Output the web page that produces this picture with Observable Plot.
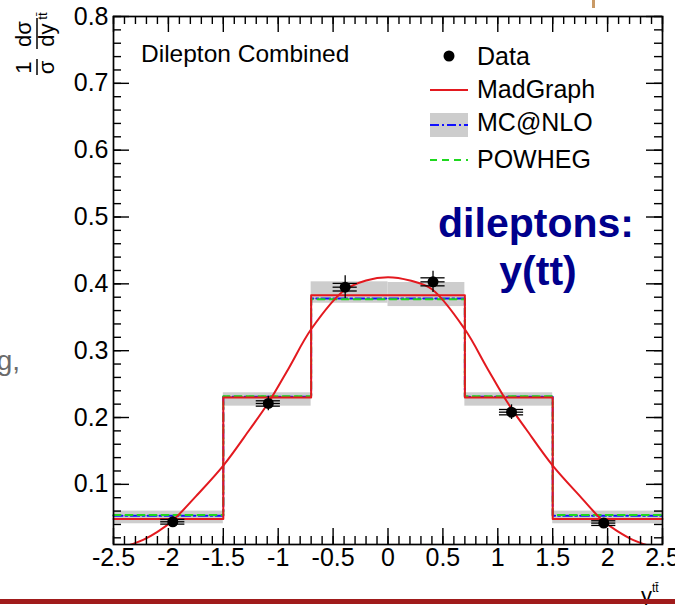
<!DOCTYPE html>
<html>
<head>
<meta charset="utf-8">
<script src="https://cdn.jsdelivr.net/npm/d3@7"></script>
<script src="https://cdn.jsdelivr.net/npm/@observablehq/plot@0.6"></script>
<style>
  body { margin: 0; background: #fff; }
  #chart { position: relative; width: 675px; height: 605px; overflow: hidden; background: #fff; }
</style>
</head>
<body>
<div id="chart"></div>
<script>
// Normalised differential cross section in y(ttbar), dilepton channel
const binEdges   = [-2.5, -1.5, -0.7, 0, 0.7, 1.5, 2.5];
const madgraph   = [0.048, 0.230, 0.383, 0.383, 0.230, 0.048];
const mcatnlo    = [0.053, 0.231, 0.378, 0.378, 0.231, 0.053];
const mcatnloLow = [0.041, 0.217, 0.371, 0.366, 0.217, 0.041];
const mcatnloHigh= [0.060, 0.237, 0.403, 0.402, 0.237, 0.060];
const powheg     = [0.054, 0.232, 0.377, 0.377, 0.232, 0.054];

const dataX    = [-1.96, -1.09, -0.39, 0.41, 1.125, 1.965];
const dataY    = [0.044, 0.221, 0.395, 0.403, 0.208, 0.042];
const dataErr  = [0.004, 0.011, 0.017, 0.016, 0.011, 0.004];
const dataXErr = [0.11, 0.11, 0.11, 0.11, 0.11, 0.11];
const dataStat = [0.0035, 0.004, 0.0057, 0.006, 0.004, 0.0035];

// MadGraph smooth prediction
const curveX = [-2.36, -2.23, -2.1, -1.96, -1.75, -1.5, -1.26, -1.09, -0.9, -0.7, -0.4, -0.2, 0,
                 0.2, 0.4, 0.7, 0.9, 1.09, 1.26, 1.5, 1.75, 1.96, 2.1, 2.23, 2.36];
const curveY = [0.009, 0.017, 0.029, 0.046, 0.082, 0.128, 0.182, 0.222, 0.275, 0.332, 0.390, 0.405, 0.410,
                0.405, 0.392, 0.332, 0.275, 0.222, 0.182, 0.128, 0.082, 0.045, 0.029, 0.017, 0.009];

const xTicks = [-2.5, -2, -1.5, -1, -0.5, 0, 0.5, 1, 1.5, 2, 2.5];
const yTicks = [0.1, 0.2, 0.3, 0.4, 0.5, 0.6, 0.7, 0.8];
const xMinor = d3.range(-25, 26).map(i => i / 10);
const yMinor = d3.range(1, 41).map(i => i / 50);

const W = 675, H = 605;
const mL = 113, mR = 13, mT = 16, mB = 61;
const innerW = W - mL - mR, innerH = H - mT - mB;
const majorLen = 16, minorLen = 8;

const RED = "#e3191f", BLUE = "#1010ff", GREEN = "#1ed81e", BAND = "#cdcdcd";
const FONT = "'Liberation Sans', Arial, Helvetica, sans-serif";

function stepRows(vals) {
  const rows = vals.map((v, i) => ({x: binEdges[i], y: v}));
  rows.push({x: binEdges[binEdges.length - 1], y: vals[vals.length - 1]});
  return rows;
}
const bands = mcatnlo.map((_, i) => ({x1: binEdges[i], x2: binEdges[i + 1], y1: mcatnloLow[i], y2: mcatnloHigh[i]}));
const points = dataX.map((x, i) => ({x, y: dataY[i], e: dataErr[i], ex: dataXErr[i], s: dataStat[i]}));
const curve = curveX.map((x, i) => ({x, y: curveY[i]}));

const tickStyle = {stroke: "#000", strokeWidth: 1.4};

const plot = Plot.plot({
  width: W, height: H,
  marginLeft: mL, marginRight: mR, marginTop: mT, marginBottom: mB,
  style: {fontFamily: FONT, fontSize: "25px", background: "#fff", color: "#000"},
  x: {domain: [-2.5, 2.5]},
  y: {domain: [0.01, 0.8]},
  marks: [
    Plot.rect(bands, {x1: "x1", x2: "x2", y1: "y1", y2: "y2", fill: BAND}),
    Plot.line(stepRows(mcatnlo), {x: "x", y: "y", curve: "step-after", stroke: BLUE, strokeWidth: 2, strokeDasharray: "9,3,2,3"}),
    Plot.line(stepRows(powheg), {x: "x", y: "y", curve: "step-after", stroke: GREEN, strokeWidth: 2, strokeDasharray: "7,5"}),
    Plot.line(stepRows(madgraph), {x: "x", y: "y", curve: "step-after", stroke: RED, strokeWidth: 2}),
    Plot.line(curve, {x: "x", y: "y", curve: "catmull-rom", stroke: RED, strokeWidth: 2, clip: true}),
    // data: total uncertainty (vertical), bin-position bars (horizontal)
    Plot.ruleX(points, {x: "x", y1: d => d.y - d.e, y2: d => d.y + d.e, stroke: "#000", strokeWidth: 1.3}),
    Plot.ruleY(points, {y: "y", x1: d => d.x - d.ex, x2: d => d.x + d.ex, stroke: "#000", strokeWidth: 1.3}),
    Plot.ruleY(points, {y: d => d.y - d.s, x1: d => d.x - d.ex, x2: d => d.x + d.ex, stroke: "#000", strokeWidth: 1.3}),
    Plot.ruleY(points, {y: d => d.y + d.s, x1: d => d.x - d.ex, x2: d => d.x + d.ex, stroke: "#000", strokeWidth: 1.3}),
    Plot.dot(points, {x: "x", y: "y", r: 5.5, fill: "#000"}),
    // inward ticks on all four sides
    Plot.tickX(xMinor, {x: d => d, insetTop: innerH - minorLen, ...tickStyle}),
    Plot.tickX(xTicks, {x: d => d, insetTop: innerH - majorLen, ...tickStyle}),
    Plot.tickX(xMinor, {x: d => d, insetBottom: innerH - minorLen, ...tickStyle}),
    Plot.tickX(xTicks, {x: d => d, insetBottom: innerH - majorLen, ...tickStyle}),
    Plot.tickY(yMinor, {y: d => d, insetRight: innerW - minorLen, ...tickStyle}),
    Plot.tickY(yTicks, {y: d => d, insetRight: innerW - majorLen, ...tickStyle}),
    Plot.tickY(yMinor, {y: d => d, insetLeft: innerW - minorLen, ...tickStyle}),
    Plot.tickY(yTicks, {y: d => d, insetLeft: innerW - majorLen, ...tickStyle}),
    Plot.frame({stroke: "#000", strokeWidth: 1.7}),
    Plot.axisX({ticks: xTicks, tickSize: 0, tickPadding: 4, fontSize: 25, tickFormat: d => String(d), label: null}),
    Plot.axisY({ticks: yTicks, tickSize: 0, tickPadding: 5, fontSize: 25, tickFormat: d => String(d), label: null})
  ]
});

document.getElementById("chart").appendChild(plot);
const svg = d3.select(plot);

// headline inside the frame
svg.append("text").attr("x", 141).attr("y", 62).attr("text-anchor", "start")
  .attr("font-family", FONT).attr("font-size", 24.5).attr("fill", "#000")
  .text("Dilepton Combined");

// legend
const leg = svg.append("g").attr("font-family", FONT).attr("font-size", 25)
  .attr("fill", "#000").attr("text-anchor", "start");
leg.append("circle").attr("cx", 449).attr("cy", 56).attr("r", 5.5).attr("fill", "#000");
leg.append("text").attr("x", 477).attr("y", 65).text("Data");
leg.append("line").attr("x1", 430).attr("x2", 468).attr("y1", 90).attr("y2", 90)
  .attr("stroke", RED).attr("stroke-width", 2);
leg.append("text").attr("x", 477).attr("y", 98).text("MadGraph");
leg.append("rect").attr("x", 430).attr("y", 113).attr("width", 38).attr("height", 24).attr("fill", BAND);
leg.append("line").attr("x1", 430).attr("x2", 468).attr("y1", 125).attr("y2", 125)
  .attr("stroke", BLUE).attr("stroke-width", 2).attr("stroke-dasharray", "9,3,2,3");
leg.append("text").attr("x", 477).attr("y", 131).text("MC@NLO");
leg.append("line").attr("x1", 430).attr("x2", 468).attr("y1", 160).attr("y2", 160)
  .attr("stroke", GREEN).attr("stroke-width", 2).attr("stroke-dasharray", "7,5");
leg.append("text").attr("x", 477).attr("y", 168).text("POWHEG");

// slide annotation
const note = svg.append("g").attr("font-family", FONT).attr("font-size", 41)
  .attr("font-weight", "bold").attr("fill", "#00008c").attr("text-anchor", "middle");
note.append("text").attr("x", 536).attr("y", 237).text("dileptons:");
note.append("text").attr("x", 538).attr("y", 285).text("y(tt)");

// neighbouring slide text
svg.append("text").attr("x", 20).attr("y", 370).attr("text-anchor", "end")
  .attr("font-family", FONT).attr("font-size", 28).attr("fill", "#6b6b6b").text("g,");

// y-axis title: (1/σ) dσ/dy^{tt̄}, rotated
const yt = svg.append("g").attr("transform", "translate(37,76) rotate(-90)")
  .attr("font-family", FONT).attr("font-size", 22).attr("fill", "#000").attr("text-anchor", "middle");
yt.append("text").attr("x", 8.5).attr("y", -6).text("1");
yt.append("line").attr("x1", 1).attr("x2", 17).attr("y1", 0).attr("y2", 0).attr("stroke", "#000").attr("stroke-width", 1.5);
yt.append("text").attr("x", 8.5).attr("y", 17).text("σ");
yt.append("text").attr("x", 42).attr("y", -6).text("dσ");
yt.append("line").attr("x1", 27).attr("x2", 58).attr("y1", 0).attr("y2", 0).attr("stroke", "#000").attr("stroke-width", 1.5);
yt.append("text").attr("x", 41).attr("y", 17).text("dy");
yt.append("text").attr("x", 60).attr("y", 10).attr("font-size", 13).text("tt\u0304");

// x-axis title: y^{tt̄}
svg.append("text").attr("x", 641).attr("y", 603).attr("text-anchor", "start")
  .attr("font-family", FONT).attr("font-size", 22).attr("fill", "#000").text("y");
svg.append("text").attr("x", 652).attr("y", 592).attr("text-anchor", "start")
  .attr("font-family", FONT).attr("font-size", 12).attr("fill", "#000").text("tt\u0304");

// slide footer rule and neighbouring image sliver
svg.append("rect").attr("x", 0).attr("y", 599).attr("width", W).attr("height", 5).attr("fill", "#a01b1b");
svg.append("rect").attr("x", 592).attr("y", 0).attr("width", 3).attr("height", 8).attr("fill", "#c99a66");
</script>
</body>
</html>
